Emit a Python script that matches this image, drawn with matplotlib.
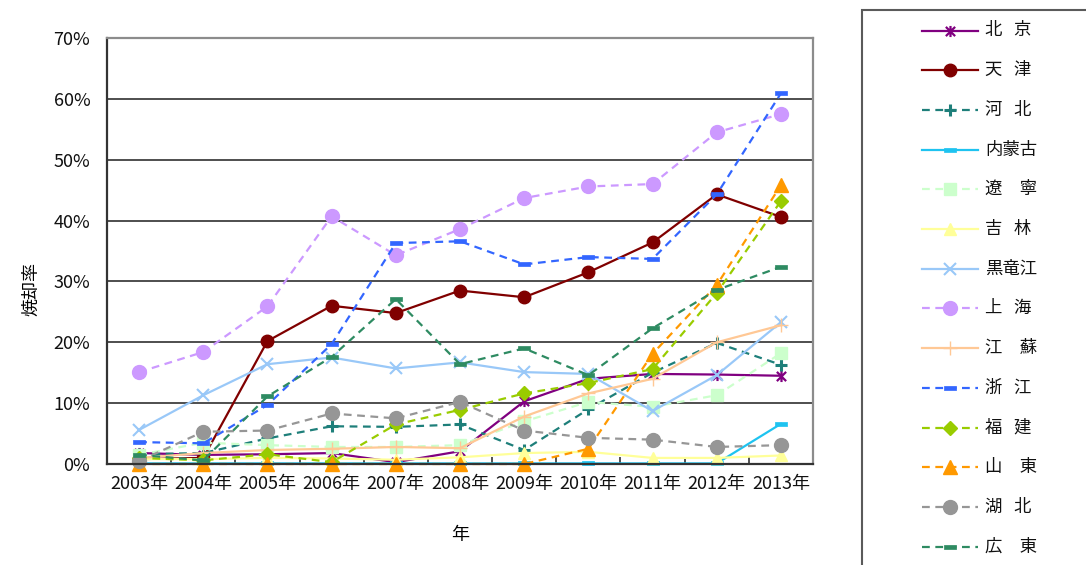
import matplotlib
matplotlib.use("Agg")
import matplotlib.pyplot as plt
from matplotlib.lines import Line2D
from matplotlib.patches import Rectangle
from matplotlib.path import Path
from matplotlib.ticker import PercentFormatter, FixedLocator

plt.rcParams['font.family'] = ['Noto Sans CJK JP', 'DejaVu Sans']

years = ['2003年', '2004年', '2005年', '2006年', '2007年', '2008年',
         '2009年', '2010年', '2011年', '2012年', '2013年']

# incineration rate (%) by prefecture-level region
beijing = [1.8, 1.5, 1.6, 1.8, 0.3, 2.1, 10.3, 14.0, 14.8, 14.7, 14.5]
tianjin = [0.8, 1.0, 20.2, 26.0, 24.8, 28.5, 27.4, 31.5, 36.4, 44.3, 40.6]
hebei = [1.6, 1.8, 4.2, 6.2, 6.1, 6.5, 2.3, 9.0, 15.0, 19.9, 16.3]
neimenggu = [0.1, 0.1, 0.1, 0.1, 0.1, 0.1, 0.1, 0.1, 0.1, 0.1, 6.6]
liaoning = [1.5, 3.5, 3.1, 2.8, 2.8, 3.1, 7.0, 10.2, 9.4, 11.3, 18.2]
jilin = [0.8, 0.8, 1.0, 0.9, 0.7, 1.1, 1.8, 2.0, 1.0, 1.0, 1.4]
heilongjiang = [5.6, 11.3, 16.4, 17.5, 15.7, 16.7, 15.1, 14.8, 8.7, 14.6, 23.3]
shanghai = [15.1, 18.4, 25.9, 40.7, 34.3, 38.6, 43.7, 45.6, 46.0, 54.5, 57.5]
jiangsu = [1.0, 1.8, 2.3, 2.5, 2.8, 2.6, 7.8, 11.6, 14.0, 20.0, 22.8]
zhejiang = [3.6, 3.4, 9.7, 19.7, 36.3, 36.6, 32.8, 34.0, 33.7, 44.3, 60.9]
fujian = [1.0, 0.6, 1.6, 0.3, 6.5, 8.9, 11.6, 13.3, 15.6, 28.1, 43.2]
shandong = [0.0, 0.0, 0.0, 0.0, 0.0, 0.0, 0.0, 2.5, 18.1, 29.4, 45.8]
hubei = [0.5, 5.3, 5.5, 8.3, 7.5, 10.2, 5.5, 4.3, 4.0, 2.8, 3.1]
guangdong = [1.5, 0.6, 11.1, 17.6, 27.1, 16.4, 19.0, 14.6, 22.3, 28.6, 32.4]

labels = ['北   京', '天   津', '河   北', '内蒙古', '遼　寧', '吉   林', '黒竜江',
          '上   海', '江　蘇', '浙   江', '福   建', '山　東', '湖   北', '広　東']

# Excel-like markers
star_path = Path([(-1, -1), (1, 1), (-1, 1), (1, -1), (0, -1.2), (0, 1.2)],
                 [Path.MOVETO, Path.LINETO, Path.MOVETO, Path.LINETO,
                  Path.MOVETO, Path.LINETO])
dash_path = Path([(-1, -0.4), (1, -0.4), (1, 0.4), (-1, 0.4), (-1, -0.4)],
                 [Path.MOVETO, Path.LINETO, Path.LINETO, Path.LINETO,
                  Path.CLOSEPOLY])

DASH = (3.5, 2.5)
# (values, color, linestyle, marker, markersize, markeredgewidth)
series = [
    (beijing, '#800080', 'solid', star_path, 8, 1.6),
    (tianjin, '#800000', 'solid', 'o', 9, 1.0),
    (hebei, '#1E7F7A', DASH, '+', 9, 2.2),
    (neimenggu, '#1EC3F0', 'solid', dash_path, 8, 0.5),
    (liaoning, '#CCFFCC', DASH, 's', 9, 1.0),
    (jilin, '#FFFF99', 'solid', '^', 9, 1.0),
    (heilongjiang, '#99C8F8', 'solid', 'x', 9, 1.5),
    (shanghai, '#CC99FF', DASH, 'o', 10, 1.0),
    (jiangsu, '#FFC895', 'solid', '+', 10, 1.0),
    (zhejiang, '#3366FF', DASH, dash_path, 8, 0.5),
    (fujian, '#99CC00', DASH, 'D', 7.5, 1.0),
    (shandong, '#FF9900', DASH, '^', 10, 1.0),
    (hubei, '#969696', DASH, 'o', 10, 1.0),
    (guangdong, '#2E8B62', DASH, dash_path, 8, 0.5),
]

W, H = 1086, 565
fig = plt.figure(figsize=(W / 100, H / 100), dpi=100)
ax = fig.add_axes([107 / W, 1 - 464 / H, 706 / W, 426 / H])

x = list(range(len(years)))
for (vals, color, ls, mk, ms, mew), lab in zip(series, labels):
    line_ls = (0, ls) if isinstance(ls, tuple) else ls
    ax.plot(x, vals, color=color, linestyle=line_ls, linewidth=1.6,
            marker=mk, markersize=ms, markeredgewidth=mew,
            markerfacecolor=color, markeredgecolor=color, label=lab,
            clip_on=False)

ax.set_xlim(-0.5, len(years) - 0.5)
ax.set_ylim(0, 70)
ax.set_yticks(range(0, 71, 10))
ax.yaxis.set_major_formatter(PercentFormatter(decimals=0))
ax.set_xticks(x)
ax.set_xticklabels(years)
ax.xaxis.set_minor_locator(FixedLocator([i + 0.5 for i in range(len(years) - 1)]))
ax.tick_params(axis='x', which='major', length=0, pad=8, labelsize=13,
               labelcolor='#111111')
ax.tick_params(axis='x', which='minor', direction='in', length=5, width=1.2,
               color='#333333')
ax.tick_params(axis='y', length=0, pad=12, labelsize=13, labelcolor='#111111')

ax.grid(axis='y', color='#404040', linewidth=1.3)
ax.set_axisbelow(True)
for side in ('left', 'bottom'):
    ax.spines[side].set_color('#333333')
    ax.spines[side].set_linewidth(1.6)
for side in ('top', 'right'):
    ax.spines[side].set_color('#8C8C8C')
    ax.spines[side].set_linewidth(1.6)

ax.set_xlabel('年', fontsize=13)
ax.xaxis.set_label_coords(0.5, -0.145)
ax.set_ylabel('焼却率', fontsize=13)
ax.yaxis.set_label_coords(-0.095, 0.41)

# legend panel
fig.add_artist(Rectangle((862 / W, 1 - 575 / H), 240 / W, 565 / H,
                         transform=fig.transFigure, fill=False,
                         edgecolor='#5A5A5A', linewidth=1.5))
y0, dy = 30.5, 39.7
for i, ((vals, color, ls, mk, ms, mew), lab) in enumerate(zip(series, labels)):
    yy = 1 - (y0 + i * dy) / H
    line_ls = (0, ls) if isinstance(ls, tuple) else ls
    fig.add_artist(Line2D([922 / W, 978 / W], [yy, yy], transform=fig.transFigure,
                          color=color, linestyle=line_ls, linewidth=1.6))
    fig.add_artist(Line2D([950 / W], [yy], transform=fig.transFigure,
                          color=color, marker=mk, markersize=ms,
                          markeredgewidth=mew, markerfacecolor=color,
                          markeredgecolor=color, linestyle='none'))
    fig.text(985 / W, yy, lab, fontsize=12.5, va='center', ha='left',
             color='#111111')

fig.savefig('out.png', dpi=100, facecolor='white')
